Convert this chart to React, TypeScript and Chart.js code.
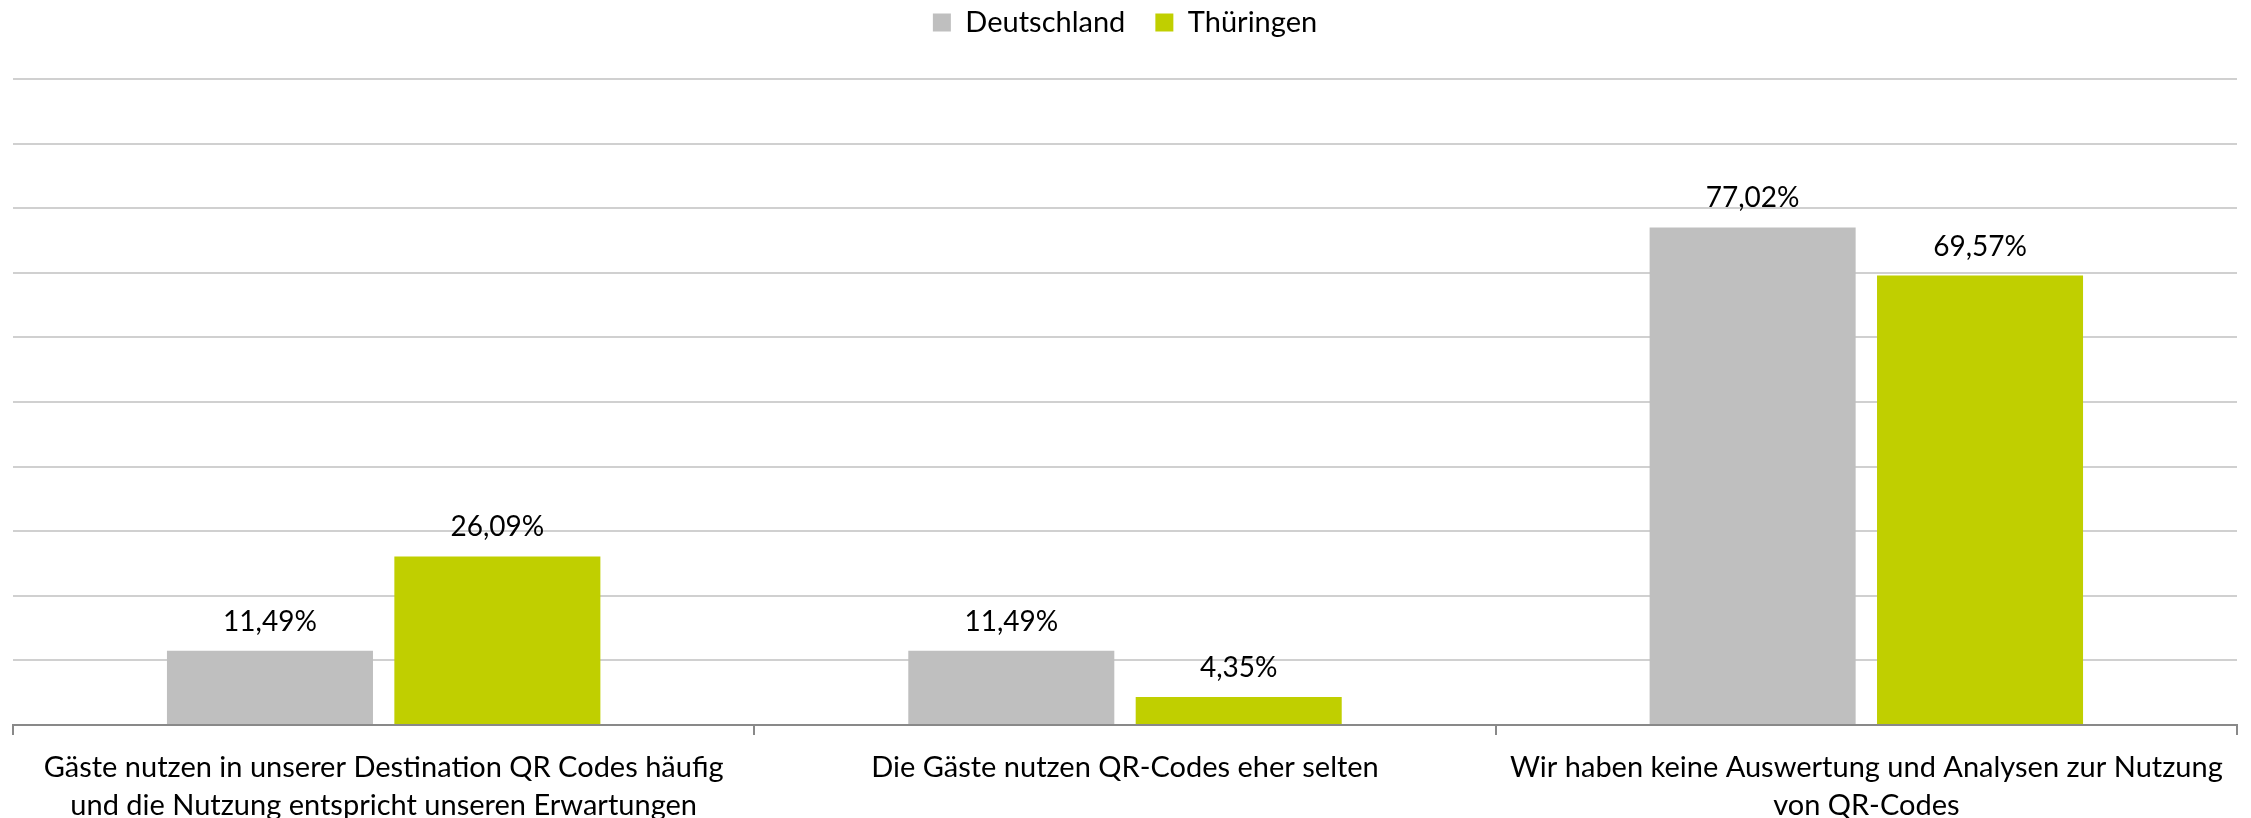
import React, { useEffect, useRef } from 'react';
import { Chart, registerables } from 'chart.js';

Chart.register(...registerables);

const categories: string[][] = [
  ['Gäste nutzen in unserer Destination QR Codes häufig', 'und die Nutzung entspricht unseren Erwartungen'],
  ['Die Gäste nutzen QR-Codes eher selten'],
  ['Wir haben keine Auswertung und Analysen zur Nutzung', 'von QR-Codes'],
];
const seriesNames = ['Deutschland', 'Thüringen'];
const deutschland = [11.49, 11.49, 77.02];
const thueringen = [26.09, 4.35, 69.57];
const seriesColors = ['#bfbfbf', '#c0cf00'];
const yMin = 0;
const yMax = 100;
const yStep = 10;

const FONT = 'Lato, "Liberation Sans", sans-serif';

const fmt = (v: number) => v.toFixed(2).replace('.', ',') + '%';

const valueLabels = {
  id: 'valueLabels',
  afterDatasetsDraw(chart: any) {
    const ctx = chart.ctx;
    ctx.save();
    ctx.font = `28px ${FONT}`;
    ctx.fillStyle = '#000000';
    ctx.textAlign = 'center';
    ctx.textBaseline = 'alphabetic';
    chart.data.datasets.forEach((ds: any, di: number) => {
      const meta = chart.getDatasetMeta(di);
      meta.data.forEach((bar: any, i: number) => {
        ctx.fillText(fmt(ds.data[i]), bar.x, bar.y - 20);
      });
    });
    ctx.restore();
  },
};

const legendSpacer = {
  id: 'legendSpacer',
  beforeInit(chart: any) {
    const legend = chart.legend;
    if (!legend) return;
    const orig = legend.fit;
    legend.fit = function () {
      orig.call(this);
      this.height += 32;
    };
  },
};

export default function App() {
  const ref = useRef<HTMLCanvasElement | null>(null);

  useEffect(() => {
    if (!ref.current) return;
    const chart = new Chart(ref.current, {
      type: 'bar',
      data: {
        labels: categories,
        datasets: [
          {
            label: seriesNames[0],
            data: deutschland,
            backgroundColor: seriesColors[0],
            borderWidth: 0,
            categoryPercentage: 0.6135,
            barPercentage: 0.906,
          },
          {
            label: seriesNames[1],
            data: thueringen,
            backgroundColor: seriesColors[1],
            borderWidth: 0,
            categoryPercentage: 0.6135,
            barPercentage: 0.906,
          },
        ],
      },
      options: {
        responsive: false,
        animation: false,
        events: [],
        layout: { padding: { left: 13, right: 14, top: -22, bottom: 0 } },
        plugins: {
          tooltip: { enabled: false },
          legend: {
            display: true,
            position: 'top',
            labels: {
              boxWidth: 18,
              boxHeight: 18,
              padding: 30,
              color: '#000000',
              font: { family: FONT, size: 29 },
            },
          },
        },
        scales: {
          x: {
            grid: {
              display: true,
              drawOnChartArea: false,
              drawTicks: true,
              tickLength: 10,
              color: '#898989',
              lineWidth: 2,
            },
            border: { display: true, color: '#898989', width: 2 },
            ticks: {
              color: '#000000',
              padding: 13,
              maxRotation: 0,
              autoSkip: false,
              font: { family: FONT, size: 29, lineHeight: 1.33 },
            },
            afterFit(scale: any) {
              scale.height = 93;
            },
          },
          y: {
            min: yMin,
            max: yMax,
            ticks: { display: false, stepSize: yStep },
            border: { display: false },
            grid: {
              drawTicks: false,
              lineWidth: 2,
              color: (c: any) => (c.tick && c.tick.value === 0 ? 'rgba(0,0,0,0)' : '#d0d0d0'),
            },
          },
        },
      },
      plugins: [valueLabels, legendSpacer],
    } as any);
    return () => chart.destroy();
  }, []);

  return (
    <div style={{ position: 'fixed', left: 0, top: 0, width: 2251, height: 818, background: '#ffffff' }}>
      <canvas ref={ref} width={2251} height={818} style={{ display: 'block' }} />
    </div>
  );
}
